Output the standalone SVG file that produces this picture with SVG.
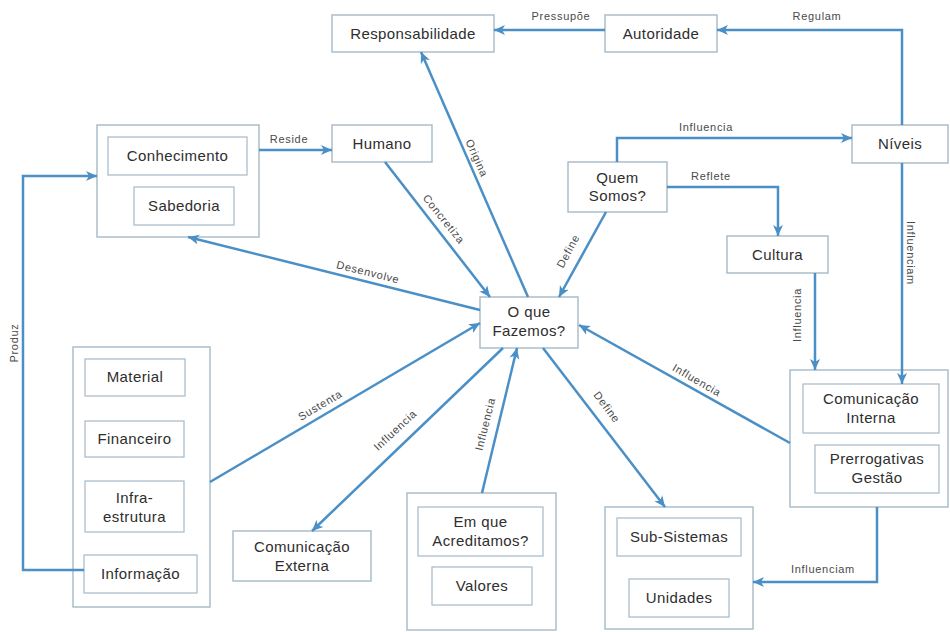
<svg xmlns="http://www.w3.org/2000/svg" width="950" height="632" viewBox="0 0 950 632">
  <defs>
    <marker id="arr" markerUnits="userSpaceOnUse" markerWidth="13" markerHeight="12" refX="11" refY="6" orient="auto">
      <path d="M0,1 L11,6 L0,11 L3,6 z" fill="#4a8fc5"/>
    </marker>
    <style>
      .box { fill: #fff; stroke: #a6b9c8; stroke-width: 1.4; }
      .inner { fill: #fff; stroke: #a6b9c8; stroke-width: 1.2; }
      .t { font-family: "Liberation Sans", Arial, sans-serif; font-size: 15px; fill: #2e2e2e; text-anchor: middle; letter-spacing: 0.4px; }
      .lbl { font-family: "Liberation Sans", Arial, sans-serif; font-size: 11px; fill: #4a4a4a; text-anchor: middle; letter-spacing: 0.7px; }
      .edge { fill: none; stroke: #4a8fc5; stroke-width: 2.5; marker-end: url(#arr); }
    </style>
  </defs>
  <rect width="950" height="632" fill="#fff"/>

  <!-- nodes -->
  <g id="responsabilidade">
    <rect class="box" x="332" y="15" width="162" height="37"/>
    <text class="t" x="413" y="39">Responsabilidade</text>
  </g>
  <g id="autoridade">
    <rect class="box" x="605" y="15" width="112" height="37"/>
    <text class="t" x="661" y="39">Autoridade</text>
  </g>
  <g id="conhecimento">
    <rect class="box" x="97" y="125" width="162" height="112"/>
    <rect class="inner" x="108" y="137" width="139" height="38"/>
    <text class="t" x="177.5" y="161">Conhecimento</text>
    <rect class="inner" x="134" y="187" width="100" height="38"/>
    <text class="t" x="184" y="211">Sabedoria</text>
  </g>
  <g id="humano">
    <rect class="box" x="332" y="125" width="100" height="37"/>
    <text class="t" x="382" y="149">Humano</text>
  </g>
  <g id="quem-somos">
    <rect class="box" x="568" y="162" width="99" height="50"/>
    <text class="t" x="617.5" y="183">Quem</text>
    <text class="t" x="617.5" y="201">Somos?</text>
  </g>
  <g id="niveis">
    <rect class="box" x="852" y="125" width="96" height="38"/>
    <text class="t" x="900" y="149">Níveis</text>
  </g>
  <g id="cultura">
    <rect class="box" x="727" y="236" width="101" height="37"/>
    <text class="t" x="777.5" y="260">Cultura</text>
  </g>
  <g id="o-que-fazemos">
    <rect class="box" x="480" y="297" width="98" height="51"/>
    <text class="t" x="529" y="317">O que</text>
    <text class="t" x="529" y="336">Fazemos?</text>
  </g>
  <g id="recursos">
    <rect class="box" x="73" y="347" width="137" height="260"/>
    <rect class="inner" x="85" y="359" width="100" height="37"/>
    <text class="t" x="135" y="382">Material</text>
    <rect class="inner" x="85" y="421" width="99" height="36"/>
    <text class="t" x="134.5" y="444">Financeiro</text>
    <rect class="inner" x="85" y="481" width="99" height="51"/>
    <text class="t" x="134.5" y="503">Infra-</text>
    <text class="t" x="134.5" y="522">estrutura</text>
    <rect class="inner" x="84" y="555" width="113" height="38"/>
    <text class="t" x="140.5" y="579">Informação</text>
  </g>
  <g id="comunicacao-externa">
    <rect class="box" x="233" y="531" width="138" height="50"/>
    <text class="t" x="302" y="552">Comunicação</text>
    <text class="t" x="302" y="571">Externa</text>
  </g>
  <g id="em-que-acreditamos">
    <rect class="box" x="407" y="493" width="149" height="137"/>
    <rect class="inner" x="418" y="507" width="125" height="49"/>
    <text class="t" x="480.5" y="527">Em que</text>
    <text class="t" x="480.5" y="546">Acreditamos?</text>
    <rect class="inner" x="432" y="567" width="100" height="38"/>
    <text class="t" x="482" y="591">Valores</text>
  </g>
  <g id="sub-sistemas">
    <rect class="box" x="605" y="507" width="148" height="122"/>
    <rect class="inner" x="617" y="518" width="124" height="38"/>
    <text class="t" x="679" y="542">Sub-Sistemas</text>
    <rect class="inner" x="629" y="579" width="100" height="38"/>
    <text class="t" x="679" y="603">Unidades</text>
  </g>
  <g id="comunicacao-interna">
    <rect class="box" x="790" y="370" width="158" height="137"/>
    <rect class="inner" x="803" y="384" width="136" height="49"/>
    <text class="t" x="871" y="404">Comunicação</text>
    <text class="t" x="871" y="423">Interna</text>
    <rect class="inner" x="815" y="445" width="124" height="48"/>
    <text class="t" x="877" y="464">Prerrogativas</text>
    <text class="t" x="877" y="483">Gestão</text>
  </g>

  <!-- connectors, drawn over the container borders they cross -->
  <g id="connectors">
    <line class="edge" x1="605" y1="30" x2="494" y2="30"/>
    <path class="edge" d="M902,125 V30 H717"/>
    <line class="edge" x1="259" y1="150" x2="332" y2="150"/>
    <path class="edge" d="M84,570 H23 V176 H97"/>
    <path class="edge" d="M617,162 V138 H852"/>
    <path class="edge" d="M667,187 H778 V236"/>
    <path class="edge" d="M902,163 V384"/>
    <path class="edge" d="M815,273 V370"/>
    <path class="edge" d="M877,507 V582 H753"/>
    <line class="edge" x1="528" y1="297" x2="421" y2="52"/>
    <line class="edge" x1="385" y1="162" x2="490" y2="297"/>
    <line class="edge" x1="606" y1="212" x2="559" y2="297"/>
    <line class="edge" x1="480" y1="310" x2="188" y2="237"/>
    <line class="edge" x1="210" y1="482" x2="480" y2="323"/>
    <line class="edge" x1="503" y1="348" x2="312" y2="531"/>
    <line class="edge" x1="482" y1="493" x2="517" y2="348"/>
    <line class="edge" x1="543" y1="348" x2="665" y2="507"/>
    <line class="edge" x1="790" y1="443" x2="579" y2="325"/>

    <text class="lbl" x="561" y="20">Pressupõe</text>
    <text class="lbl" x="817" y="20">Regulam</text>
    <text class="lbl" x="289" y="143">Reside</text>
    <text class="lbl" transform="translate(14,343) rotate(-90)" y="4">Produz</text>
    <text class="lbl" x="706" y="131">Influencia</text>
    <text class="lbl" x="711" y="180">Reflete</text>
    <text class="lbl" transform="translate(911,253) rotate(90)" y="4">Influenciam</text>
    <text class="lbl" transform="translate(797,315) rotate(-90)" y="4">Influencia</text>
    <text class="lbl" x="823" y="573">Influenciam</text>
    <text class="lbl" transform="translate(477,158) rotate(66)" y="4">Origina</text>
    <text class="lbl" transform="translate(444,219) rotate(51)" y="4">Concretiza</text>
    <text class="lbl" transform="translate(568,251) rotate(-62)" y="4">Define</text>
    <text class="lbl" transform="translate(368,272) rotate(14)" y="4">Desenvolve</text>
    <text class="lbl" transform="translate(320,405) rotate(-30.5)" y="4">Sustenta</text>
    <text class="lbl" transform="translate(395,430) rotate(-43)" y="4">Influencia</text>
    <text class="lbl" transform="translate(485,424) rotate(-76)" y="4">Influencia</text>
    <text class="lbl" transform="translate(607,407) rotate(53)" y="4">Define</text>
    <text class="lbl" transform="translate(697,380) rotate(30)" y="4">Influencia</text>
  </g>
</svg>
